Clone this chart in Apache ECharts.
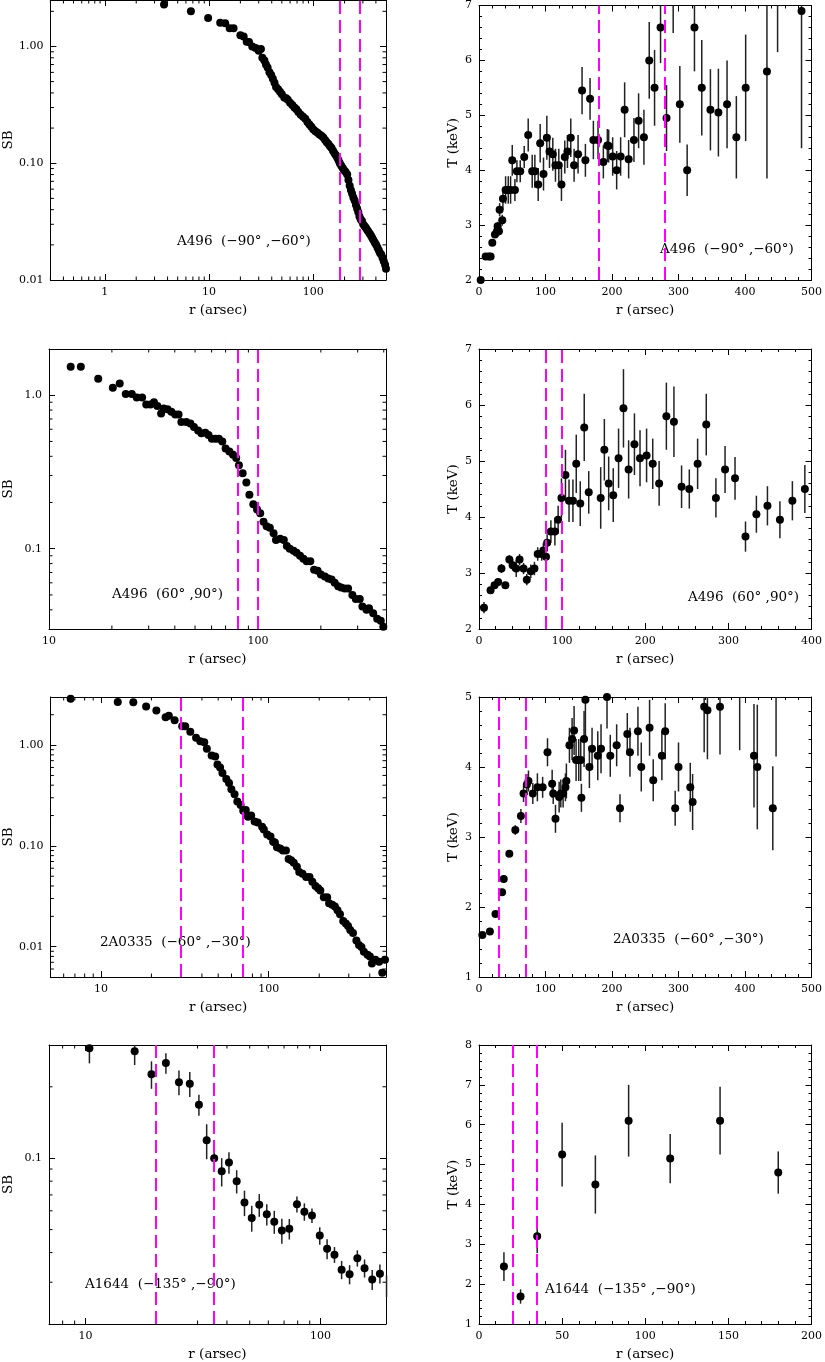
<!DOCTYPE html>
<html>
<head>
<meta charset="utf-8">
<script src="https://cdn.jsdelivr.net/npm/echarts@6/dist/echarts.min.js"></script>
<style>html,body{margin:0;background:#fff}#main{width:825px;height:1362px}</style>
</head>
<body>
<div id="main"></div>
<script>
// ---- data ----
// A496 (-90,-60): surface brightness profile
var p1R = [3.7,6.7,9.8,12.8,14.3,15.8,17.2,20,21.5,23,24.2,26,28,30,31.5,32.5,34,35.2,36.5,38,39.5,41,42.5,44,46,48,50,52.7,55,57,60,63,66,69,72,76,80,84,88,92,96,100,105,110,115,120,125,130,135,140,145,150,155,160,165,170,175,180,186,192,198,205,212,218,224,230,236,243,250,257,264,271,278,286,294,302,311,320,329,338,348,358,368,378,390,402,414,426,438,450,463,476,490,500];
var p1SB = [2.29,2.0,1.75,1.6,1.58,1.43,1.43,1.25,1.22,1.1,1.09,1.0,0.97,0.92,0.95,0.80,0.76,0.70,0.66,0.60,0.57,0.53,0.49,0.45,0.43,0.41,0.39,0.365,0.36,0.35,0.33,0.315,0.30,0.29,0.275,0.26,0.25,0.24,0.225,0.215,0.205,0.195,0.188,0.182,0.176,0.172,0.166,0.158,0.151,0.146,0.14,0.135,0.128,0.122,0.117,0.112,0.106,0.100,0.095,0.091,0.087,0.084,0.08,0.072,0.064,0.059,0.055,0.051,0.048,0.044,0.041,0.038,0.035,0.033,0.032,0.030,0.029,0.028,0.027,0.026,0.025,0.024,0.023,0.022,0.021,0.020,0.019,0.018,0.017,0.0165,0.0155,0.0145,0.0135,0.0125];
// A496 (-90,-60): temperature
var p2R = [2.5,10,15,17.5,20,24,27,28,30,31,35,36,40,44,47.5,50,54,57,62,68,74,80,84,89,92,97,102,106,111,115,120,124,129,133,138,143,149,155,160,167,172,179,187,193,195,201,207,213,219,225,233,240,248,256,264,273,282,292,302,313,324,335,348,360,373,387,401,433,449,485];
var p2T = [2.0,2.43,2.43,2.43,2.68,2.83,2.89,2.98,2.89,3.28,3.09,3.48,3.64,3.64,3.64,4.18,3.64,3.98,3.98,4.24,4.64,3.98,3.98,3.74,4.49,3.93,4.59,4.34,4.29,4.09,4.09,3.74,4.24,4.34,4.59,4.09,4.29,5.45,4.18,5.3,4.55,4.55,4.15,4.45,4.44,4.25,4.0,4.25,5.1,4.2,4.55,4.9,4.6,6.0,5.5,6.6,4.95,7.3,5.2,4.0,6.6,5.5,5.1,5.05,5.2,4.6,5.5,5.8,7.4,6.9];
var p2E = [0.03,0.05,0.05,0.05,0.06,0.06,0.07,0.08,0.08,0.12,0.1,0.2,0.25,0.25,0.25,0.28,0.2,0.2,0.2,0.2,0.3,0.3,0.3,0.3,0.35,0.3,0.4,0.3,0.3,0.3,0.3,0.3,0.3,0.3,0.35,0.3,0.35,0.43,0.3,0.38,0.35,0.35,0.3,0.3,0.3,0.35,0.35,0.35,0.5,0.35,0.4,0.5,0.5,0.7,0.69,0.65,0.6,0.8,0.7,0.47,0.8,0.87,0.74,0.8,0.8,0.75,0.97,1.95,1.25,2.5];
// A496 (60,90)
var p3R = [12.7,14.2,17.2,20.2,21.8,23.3,24.9,26.3,27.9,29.2,30.6,31.8,33,34.4,35.4,36.9,38.5,40.2,41.7,43,45.4,47.5,49.4,51.7,53.6,56,58,60.2,62.7,65,67.5,70,73,76,78.7,81.1,84.5,88,91,95,99,102.5,106.3,110,114,118.8,122,127.7,133,137.5,142,148,153,159,165,171,178,185.6,193,200,209,217,225,233,242,250,260,270,283,294,307,316,331,340,356,372,387,398];
var p3SB = [1.53,1.53,1.28,1.12,1.19,1.02,1.02,0.966,0.966,0.87,0.87,0.9,0.85,0.76,0.82,0.81,0.78,0.75,0.75,0.67,0.67,0.655,0.62,0.59,0.565,0.57,0.55,0.52,0.52,0.52,0.5,0.45,0.43,0.41,0.39,0.35,0.31,0.27,0.225,0.195,0.18,0.17,0.15,0.14,0.137,0.126,0.114,0.116,0.114,0.104,0.1,0.097,0.094,0.09,0.086,0.083,0.083,0.073,0.072,0.068,0.066,0.064,0.063,0.06,0.057,0.056,0.055,0.055,0.05,0.047,0.047,0.042,0.04,0.041,0.038,0.035,0.034,0.031];
var p4R = [6,13.9,18.7,23,27,31.7,36.5,40.5,44.8,48.8,53.6,57.5,62.3,66.7,70.6,75.4,77.4,80.6,82,86.5,91.3,95.2,99.2,104,108.3,113,117,121.8,126.6,132,146.4,150.8,156,161.5,167.9,173.8,180,187,193.7,201.6,209,216.7,225.4,234.5,243.7,253,263,273.4,285,296,308,320.6,333.7,347,362,377,392];
var p4T = [2.38,2.69,2.78,2.84,3.08,2.78,3.24,3.14,3.08,3.24,3.08,2.88,3.03,3.08,3.34,3.34,3.4,3.29,3.54,3.74,3.74,3.95,4.34,4.75,4.29,4.29,4.95,4.24,5.6,4.44,4.34,5.2,4.6,4.39,5.05,5.94,4.85,5.3,5.05,5.1,4.95,4.6,5.8,5.7,4.54,4.5,4.95,5.65,4.34,4.85,4.69,3.65,4.05,4.2,3.95,4.29,4.5];
var p4E = [0.1,0.03,0.03,0.04,0.08,0.03,0.08,0.1,0.15,0.1,0.1,0.1,0.12,0.12,0.12,0.12,0.13,0.08,0.15,0.2,0.25,0.25,0.35,0.45,0.38,0.38,0.52,0.4,0.6,0.38,0.55,0.55,0.48,0.48,0.53,0.7,0.52,0.55,0.5,0.48,0.45,0.4,0.6,0.63,0.38,0.35,0.45,0.55,0.35,0.42,0.38,0.27,0.33,0.35,0.33,0.35,0.43];
// 2A0335 (-60,-30)
var p5R = [6.6,12.6,15.6,18.6,21.4,24.3,25.4,27.5,30.5,31.8,34.1,36.9,39.1,41.3,42.8,45.7,48,49.5,51.3,53,55.9,58,59.9,62.6,65,68,70.5,73,75.2,78.6,82.4,86,91.3,93.5,97.9,102.5,106.3,108.8,112,117,121.5,126.7,131.4,136,141,147.2,152,159,167,175,182,190,197,203,213,223,229,239,248,257,266,278,288,297,306,318,333,345,357,369,388,401,412,432,455,475,493];
var p5SB = [2.89,2.68,2.66,2.41,2.2,1.89,1.96,1.76,1.54,1.54,1.36,1.18,1.09,1.07,0.92,0.79,0.77,0.64,0.6,0.53,0.46,0.42,0.365,0.326,0.276,0.254,0.223,0.227,0.195,0.2,0.175,0.171,0.155,0.145,0.13,0.124,0.11,0.108,0.097,0.094,0.09,0.09,0.074,0.072,0.068,0.062,0.055,0.053,0.049,0.049,0.044,0.04,0.038,0.036,0.031,0.031,0.027,0.026,0.025,0.023,0.021,0.018,0.017,0.016,0.0146,0.0137,0.0115,0.0104,0.0099,0.0089,0.0083,0.008,0.0068,0.0074,0.0071,0.0055,0.0074];
var p6R = [5,16.4,24.8,34.7,37.2,45.6,54.6,63,67,72,74.4,80.9,87.8,95.7,103,110,111.6,115,120.5,123,126.5,130,131.4,136,140,143,146,150,153,154,158,160,166,170,178.6,183.5,192.5,197.4,207,212,223,227,239,244,256.5,262,275,280,295,300,317.7,321.2,338.6,343.5,362.4,392,413.5,418.5,441.8,446.7];
var p6T = [1.6,1.65,1.9,2.21,2.4,2.76,3.1,3.3,3.62,3.75,3.8,3.62,3.71,3.71,4.21,3.76,3.62,3.26,3.57,3.62,3.62,3.71,3.8,4.31,4.4,4.52,4.1,4.1,4.1,3.56,4.4,4.96,4.0,4.26,4.16,4.26,5.0,4.16,4.31,3.41,4.47,4.21,4.51,4.0,4.56,3.81,4.16,4.51,3.41,4.0,3.71,3.5,4.86,4.81,4.86,5.4,4.16,4.0,3.41,5.6];
var p6E = [0.03,0.03,0.03,0.05,0.05,0.04,0.07,0.1,0.12,0.15,0.15,0.15,0.2,0.15,0.2,0.2,0.15,0.2,0.22,0.2,0.2,0.2,0.25,0.25,0.3,0.35,0.3,0.3,0.3,0.2,0.4,0.55,0.3,0.3,0.35,0.35,0.45,0.3,0.3,0.2,0.3,0.35,0.35,0.35,0.4,0.3,0.35,0.4,0.25,0.35,0.35,0.4,0.65,0.7,0.68,1.16,0.74,0.89,0.6,1.45];
// A1644 (-135,-90)
var p7R = [10.4,16.2,19.1,22,25,27.8,30.4,32.8,35.3,38,40.8,44,47.5,51,54.9,59.1,63.6,68.5,73.7,79.4,85.4,92,99.3,106.7,114.7,123,133,143.5,154,166,179,191];
var p7SB = [0.291,0.282,0.226,0.252,0.209,0.206,0.168,0.119,0.1,0.088,0.096,0.08,0.065,0.056,0.0636,0.058,0.054,0.0496,0.0504,0.064,0.0595,0.0573,0.0472,0.0415,0.0392,0.0339,0.0324,0.0379,0.0344,0.0308,0.0326,0.029];
var p7E = [0.04,0.035,0.03,0.025,0.025,0.025,0.017,0.02,0.01,0.012,0.01,0.009,0.008,0.007,0.007,0.006,0.006,0.006,0.005,0.005,0.005,0.004,0.004,0.004,0.003,0.003,0.003,0.003,0.003,0.003,0.003,0.003];
var p8R = [15,25,35,50,70,90,115,145,180];
var p8T = [2.44,1.69,3.2,5.25,4.5,6.1,5.15,6.1,4.8];
var p8E = [0.36,0.18,0.42,0.8,0.73,0.9,0.62,0.85,0.53];

// dashed region limits per row
var cuts = [[180, 280], [80, 100], [30, 70], [20, 35]];
var notes = ['A496  (\u221290\u00b0 ,\u221260\u00b0)', 'A496  (60\u00b0 ,90\u00b0)',
             '2A0335  (\u221260\u00b0 ,\u221230\u00b0)', 'A1644  (\u2212135\u00b0 ,\u221290\u00b0)'];

var FONT = 'DejaVu Serif';
var ROW_TOP = [0, 349, 697, 1045];
var PLOT_H = 280;

var chart = echarts.init(document.getElementById('main'));

function zip(a, b, c) {
  return a.map(function (v, i) { return c ? [v, b[i], c[i]] : [v, b[i]]; });
}

function powLabel(digits) {
  return function (v) {
    var l = Math.log10(v);
    if (Math.abs(l - Math.round(l)) > 1e-6) return '';
    var p = Math.pow(10, Math.round(l));
    return digits == null ? String(p) : p.toFixed(digits);
  };
}

// minor tick values 2..9 x 10^n for log axes
function logMinors(lo, hi) {
  var out = [];
  for (var n = -4; n < 4; n++) {
    for (var k = 2; k < 10; k++) {
      var v = k * Math.pow(10, n);
      if (v > lo && v < hi) out.push(v);
    }
  }
  return out;
}

function minorTickItem(params, api) {
  var cs = params.coordSys;
  var p = api.coord([api.value(0), api.value(1)]);
  var L = 3.5, st = {stroke: '#000', lineWidth: 1};
  if (api.value(2) === 0) {
    return {type: 'group', children: [
      {type: 'line', shape: {x1: p[0], y1: cs.y + cs.height, x2: p[0], y2: cs.y + cs.height - L}, style: st},
      {type: 'line', shape: {x1: p[0], y1: cs.y, x2: p[0], y2: cs.y + L}, style: st}
    ]};
  }
  return {type: 'group', children: [
    {type: 'line', shape: {x1: cs.x, y1: p[1], x2: cs.x + L, y2: p[1]}, style: st},
    {type: 'line', shape: {x1: cs.x + cs.width, y1: p[1], x2: cs.x + cs.width - L, y2: p[1]}, style: st}
  ]};
}

function errItem(params, api) {
  var cs = params.coordSys;
  var x = api.value(0), y = api.value(1), e = api.value(2);
  var lo = api.coord([x, y - e]), hi = api.coord([x, y + e]);
  var top = Math.max(hi[1], cs.y), bot = Math.min(lo[1], cs.y + cs.height);
  if (bot <= top) return;
  return {type: 'line', shape: {x1: lo[0], y1: top, x2: lo[0], y2: bot},
          style: {stroke: '#222', lineWidth: 1.5}};
}

var grid = [], xAxis = [], yAxis = [], series = [], graphic = [];

function axis(kind, mirror, cfg) {
  var a = {
    gridIndex: cfg.g, type: kind.type, min: kind.min, max: kind.max,
    axisLine: {show: true, onZero: false, lineStyle: {color: '#000', width: 1}},
    axisTick: {show: true, inside: true, length: 6, lineStyle: {color: '#000'}},
    splitLine: {show: false},
    axisLabel: {show: !mirror, color: '#000', fontFamily: FONT, fontSize: 11, margin: 7},
    position: cfg.pos
  };
  if (kind.type === 'log') {
    a.logBase = 10;
    a.axisLabel.formatter = powLabel(kind.digits);
  } else {
    a.interval = kind.interval;
    a.minorTick = {show: true, splitNumber: 5, length: 3, lineStyle: {color: '#000'}};
  }
  if (!mirror && cfg.name) {
    a.name = cfg.name;
    a.nameLocation = 'middle';
    a.nameGap = cfg.gap;
    a.nameTextStyle = {fontFamily: FONT, fontSize: 13.5, color: '#000'};
  }
  return a;
}

function panel(g, left, width, top, xk, yk, pts, yName, yGap, cut, note, notePos) {
  grid.push({left: left, top: top, width: width, height: PLOT_H});
  xAxis.push(axis(xk, false, {g: g, pos: 'bottom', name: 'r (arsec)', gap: 23}));
  xAxis.push(axis(xk, true, {g: g, pos: 'top'}));
  yAxis.push(axis(yk, false, {g: g, pos: 'left', name: yName, gap: yGap}));
  yAxis.push(axis(yk, true, {g: g, pos: 'right'}));
  var xi = 2 * g, yi = 2 * g;
  if (pts[0].length === 3) {
    series.push({type: 'custom', xAxisIndex: xi, yAxisIndex: yi, data: pts,
                 renderItem: errItem, silent: true, z: 1});
  }
  if (xk.type === 'log') {
    var md = logMinors(xk.min, xk.max).map(function (v) { return [v, yk.min, 0]; })
      .concat(logMinors(yk.min, yk.max).map(function (v) { return [xk.min, v, 1]; }));
    series.push({type: 'custom', xAxisIndex: xi, yAxisIndex: yi, data: md,
                 renderItem: minorTickItem, silent: true, z: 1});
  }
  series.push({
    type: 'scatter', xAxisIndex: xi, yAxisIndex: yi, z: 3,
    data: pts.map(function (p) { return [p[0], p[1]]; }),
    symbolSize: 8, itemStyle: {color: '#000', opacity: 1}, silent: true,
    markLine: {
      silent: true, symbol: ['none', 'none'], label: {show: false},
      lineStyle: {color: '#ff00ff', width: 2, type: [13, 6], opacity: 1},
      data: cut.map(function (v) { return {xAxis: v}; })
    }
  });
  graphic.push({type: 'text', left: notePos[0], top: notePos[1], z: 0,
                style: {text: note, font: '13.5px "' + FONT + '"', fill: '#000'}});
}

var LX = 49, LW = 337, RX = 479, RW = 335;

panel(0, LX, LW, ROW_TOP[0], {type: 'log', min: 0.3, max: 500},
      {type: 'log', min: 0.01, max: 2.5, digits: 2},
      zip(p1R, p1SB), 'SB', 34, cuts[0], notes[0], [177, 234]);
panel(1, RX, RW, ROW_TOP[0], {type: 'value', min: 0, max: 500, interval: 100},
      {type: 'value', min: 2, max: 7, interval: 1},
      zip(p2R, p2T, p2E), 'T (keV)', 19, cuts[0], notes[0], [660, 242]);
panel(2, LX, LW, ROW_TOP[1], {type: 'log', min: 10, max: 410},
      {type: 'log', min: 0.03, max: 2.0, digits: 1},
      zip(p3R, p3SB), 'SB', 34, cuts[1], notes[1], [112, 587]);
panel(3, RX, RW, ROW_TOP[1], {type: 'value', min: 0, max: 400, interval: 100},
      {type: 'value', min: 2, max: 7, interval: 1},
      zip(p4R, p4T, p4E), 'T (keV)', 19, cuts[1], notes[1], [688, 590]);
panel(4, LX, LW, ROW_TOP[2], {type: 'log', min: 5, max: 500},
      {type: 'log', min: 0.005, max: 3, digits: 2},
      zip(p5R, p5SB), 'SB', 34, cuts[2], notes[2], [100, 935]);
panel(5, RX, RW, ROW_TOP[2], {type: 'value', min: 0, max: 500, interval: 100},
      {type: 'value', min: 1, max: 5, interval: 1},
      zip(p6R, p6T, p6E), 'T (keV)', 19, cuts[2], notes[2], [613, 932]);
panel(6, LX, LW, ROW_TOP[3], {type: 'log', min: 7, max: 190},
      {type: 'log', min: 0.02, max: 0.3, digits: 1},
      zip(p7R, p7SB, p7E), 'SB', 34, cuts[3], notes[3], [85, 1277]);
panel(7, RX, RW, ROW_TOP[3], {type: 'value', min: 0, max: 200, interval: 50},
      {type: 'value', min: 1, max: 8, interval: 1},
      zip(p8R, p8T, p8E), 'T (keV)', 19, cuts[3], notes[3], [545, 1282]);

chart.setOption({
  animation: false,
  textStyle: {fontFamily: FONT},
  grid: grid, xAxis: xAxis, yAxis: yAxis, series: series, graphic: graphic
});
</script>
</body>
</html>
